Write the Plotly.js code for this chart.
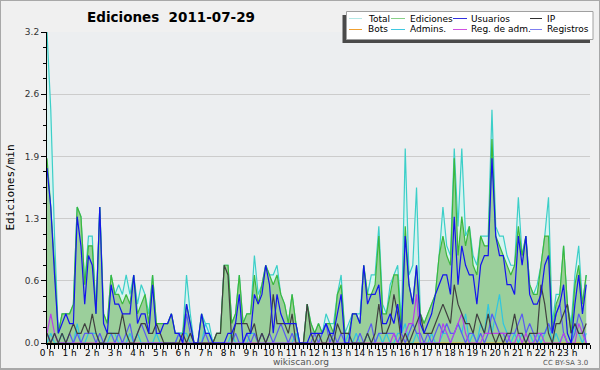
<!DOCTYPE html>
<html>
<head>
<meta charset="utf-8">
<script src="https://cdn.plot.ly/plotly-3.0.1.min.js"></script>
<style>
  html, body { margin: 0; padding: 0; background: #f0f0f0; }
  #wrap { position: relative; width: 600px; height: 370px; }
  #chart { width: 600px; height: 370px; }
  #frame { position: absolute; left: 0; top: 0; width: 600px; height: 370px; box-sizing: border-box;
           border: 1px solid #a8a8a8; border-bottom-width: 2px; pointer-events: none; }
</style>
</head>
<body>
<div id="wrap"><div id="chart"></div><div id="frame"></div></div>
<script>
// ---- data: one value per 10-minute slot (edits per minute) ----
const total = [3.2,2.4,1.1,0.1,0.3,0.3, 0.3,0.4,1.4,1.3,0.6,1.1, 1.1,0.3,1.4,0.3,0.2,0.7, 0.5,0.6,0.5,0.7,0.5,0.7,
  0.4,0.6,0.5,0.3,0.7,0.2, 0.2,0.2,0.2,0.3,0.1,0.1, 0.1,0.7,0.3,0,0,0.3, 0.2,0.2,0,0.1,0.1,0.8,
  0.8,0.2,0.3,0.7,0.2,0.3, 0.3,0.9,0.5,0.6,0.8,0.7, 0.7,0.8,0.5,0.4,0.2,0.5, 0.2,0,0,0.4,0.2,0.1,
  0.2,0.1,0.3,0.2,0.2,0.5, 0.7,0.1,0.2,0.3,0.3,0.3, 0.8,0.5,0.7,0.7,1.2,0.4, 0.3,0.6,0.7,0.8,0.2,2.0,
  0.7,0.8,1.6,0.3,0.2,0.3, 0.4,0.5,0.9,1.4,1.0,0.9, 2.0,1.2,2.0,1.1,1.2,0.9, 0.8,1.1,1.1,1.1,2.4,1.2,
  1.1,1.1,0.9,0.8,0.8,1.5, 0.9,1.1,0.6,0.5,0.6,0.8, 1.1,1.5,0.2,0.5,0.5,1.0, 0.4,0.2,0.7,1.0,0.4,0.7];
const ediciones = [1.9,1.4,0.8,0.1,0.3,0.3, 0.3,0.4,1.4,1.3,0.6,1.0, 1.0,0.3,1.4,0.3,0.2,0.7, 0.5,0.5,0.4,0.5,0.4,0.7,
  0.3,0.4,0.5,0.2,0.7,0.2, 0.2,0.2,0.2,0.3,0.1,0.1, 0.1,0.4,0.2,0,0,0.3, 0.1,0.1,0,0.1,0.1,0.8,
  0.8,0.2,0.3,0.7,0.2,0.3, 0.3,0.7,0.4,0.6,0.8,0.7, 0.6,0.7,0.5,0.4,0.2,0.5, 0.2,0,0,0.4,0.2,0.1,
  0.2,0.1,0.2,0.2,0.1,0.5, 0.6,0.1,0.1,0.3,0.3,0.2, 0.8,0.5,0.5,0.6,1.1,0.3, 0.3,0.5,0.7,0.7,0.1,1.2,
  0.6,0.4,0.8,0.3,0.2,0.3, 0.4,0.5,0.9,1.1,0.9,0.8, 1.9,0.9,1.3,1.0,1.2,0.8, 0.7,1.1,1.0,1.0,2.1,1.1,
  1.0,0.9,0.8,0.7,0.8,1.2, 0.9,1.1,0.6,0.5,0.5,0.8, 1.1,1.1,0.1,0.4,0.5,1.0, 0.4,0.1,0.6,0.8,0.4,0.7];
const usuarios = [1.8,1.4,0.7,0.1,0.2,0.3, 0.2,0.2,1.3,1.0,0.4,0.9, 0.8,0.3,1.4,0.2,0.1,0.6, 0.4,0.4,0.3,0.3,0.3,0.7,
  0.2,0.3,0.3,0.1,0.6,0.1, 0.1,0.2,0.2,0.3,0.1,0.1, 0,0.4,0.2,0,0,0.3, 0.1,0.1,0,0,0,0,
  0.1,0.1,0.2,0.5,0,0.1, 0.1,0.5,0.4,0.5,0.8,0.6, 0.1,0.5,0.3,0.2,0.2,0.2, 0.2,0,0,0,0.1,0.1,
  0.1,0.1,0.2,0.1,0.1,0.3, 0.5,0,0,0.3,0.3,0.2, 0.8,0.4,0.5,0.5,0.6,0.2, 0.2,0.3,0.2,0.4,0.1,1.1,
  0.6,0.4,0.8,0.2,0.1,0.2, 0.3,0.5,0.6,0.7,0.7,0.5, 1.3,0.6,1.0,0.8,0.7,0.7, 0.4,0.8,0.9,0.9,1.9,1.1,
  0.9,0.9,0.6,0.6,0.5,1.1, 0.8,1.1,0.5,0.4,0.4,0.5, 0.8,0.9,0.1,0.3,0.4,0.6, 0.1,0,0.4,0.7,0.3,0.6];
const ip = [0.1,0,0.1,0,0.1,0, 0.1,0.2,0.1,0.1,0.2,0.1, 0.3,0.1,0,0,0.1,0.1, 0.1,0.1,0.3,0.1,0,0,
  0.1,0.2,0.2,0.1,0.1,0.2, 0.1,0,0,0,0,0, 0.1,0,0.1,0,0,0, 0,0,0,0.1,0.1,0.8,
  0.7,0,0.2,0.2,0.2,0.2, 0.1,0.2,0,0.1,0,0.1, 0.5,0.2,0.2,0.2,0.1,0.3, 0,0,0,0.4,0.1,0,
  0.1,0,0,0.1,0,0.2, 0.1,0.1,0.1,0,0,0, 0,0.1,0,0.1,0.4,0.1, 0.1,0.2,0.5,0.3,0,0.1,
  0,0.1,0.2,0.3,0.1,0.1, 0.1,0.2,0.3,0.4,0.3,0.2, 0.6,0.4,0.3,0.2,0.2,0.1, 0.3,0.2,0.1,0.3,0.1,0,
  0.1,0,0.1,0.1,0.3,0.1, 0.1,0,0.1,0.1,0.1,0.6, 0.4,0.1,0,0.2,0.2,0.3, 0.4,0.1,0.2,0.1,0.1,0.2];
const bots = new Array(144).fill(0);
const admins = [0,0.1,0,0,0.1,0, 0,0,0.2,0,0,0.1, 0.1,0.1,0,0,0,0.1, 0.1,0,0,0,0.1,0,
  0.1,0,0,0,0,0.1, 0,0,0,0,0,0.1, 0.1,0.1,0,0,0,0, 0.2,0.1,0,0,0,0,
  0,0.1,0,0,0,0, 0.1,0.1,0,0,0,0, 0,0,0,0,0,0, 0.1,0,0,0,0,0,
  0,0.1,0.2,0.1,0,0, 0,0,0.1,0,0.1,0, 0,0.1,0,0,0.1,0, 0.1,0,0,0.1,0.1,0.2,
  0,0,0.1,0,0,0, 0.1,0,0,0.1,0.1,0, 0.1,0.2,0.1,0.3,0,0.1, 0,0.2,0.1,0.4,0.1,0.3,
  0.5,0.2,0.1,0,0.1,0, 0.1,0,0.1,0,0.1,0, 0.1,0.2,0,0.1,0,0.1, 0,0,0.2,0.1,0,0.1];
const regAdm = [0.1,0.3,0.1,0,0,0, 0,0,0,0,0,0, 0,0,0,0,0,0, 0,0,0,0,0,0,
  0,0,0,0,0,0, 0,0,0,0,0,0, 0,0,0,0,0,0, 0,0,0,0,0,0,
  0,0,0,0,0,0, 0,0,0,0,0,0, 0,0,0,0,0,0, 0,0,0,0,0,0,
  0,0,0,0,0,0, 0,0,0,0,0,0, 0,0,0,0,0,0, 0,0,0.1,0,0,0.1,
  0.2,0.2,0.5,0,0,0, 0,0,0,0.2,0.1,0, 0.1,0.2,0.3,0.1,0,0, 0,0,0.1,0.1,0.1,0.1,
  0.1,0.1,0.1,0,0,0.1, 0,0.1,0,0,0.1,0.1, 0,0,0,0,0,0.1, 0,0,0,0.2,0.1,0];
const registros = [0.1,0,0.1,0,0,0, 0.1,0,0.1,0,0.1,0.1, 0.1,0,0.1,0,0.1,0.1, 0,0.1,0,0.1,0.2,0,
  0.1,0.2,0.1,0,0,0, 0,0,0,0,0,0.1, 0,0.3,0.1,0,0,0, 0.1,0,0,0,0,0,
  0,0,0.1,0,0,0.1, 0,0.1,0,0.1,0,0.1, 0,0.1,0.2,0.1,0,0.1, 0,0,0,0,0,0.1,
  0,0.1,0.2,0,0.1,0, 0.1,0,0,0,0,0.1, 0,0.1,0.2,0,0.1,0.1, 0.1,0.1,0.1,0,0.1,0,
  0.1,0.2,0.1,0.1,0,0.1, 0,0.1,0.2,0.1,0.2,0.1, 0.1,0.2,0.1,0,0.1,0.1, 0,0.1,0,0.1,0.3,0.2,
  0.1,0.1,0,0.1,0.1,0.2, 0.3,0.1,0.2,0.1,0,0.1, 0.1,0.2,0.1,0.3,0.4,0.1, 0,0,0.1,0.3,0.2,0];
const hourTicks = [0,1,2,3,4,5,6,7,8,9,10,11,12,13,14,15,16,17,18,19,20,21,22,23];
const hourLabels = hourTicks.map(h => h + ' h');
const yTickVals = [0, 0.64, 1.28, 1.92, 2.56, 3.2];
const yTickText = ['0.0', '0.6', '1.3', '1.9', '2.6', '3.2'];
const slots = total.map((_, i) => i / 6);   // hours of the day

// ---- styling ----
const series = [
  {name: 'Total',        y: total,     color: '#3ccfc8', legend: '#b4e8e6', fill: '#d6f3f0'},
  {name: 'Ediciones',    y: ediciones, color: '#3cb83c', legend: '#88d088', fill: '#9bcf9b'},
  {name: 'Bots',         y: bots,      color: '#f0a030', legend: '#f0a030'},
  {name: 'Admins.',      y: admins,    color: '#30c6e0', legend: '#40c8e0'},
  {name: 'Registros',    y: registros, color: '#5a5af2', legend: '#7f7ff0'},
  {name: 'Reg. de adm.', y: regAdm,    color: '#b840e8', legend: '#d050e0'},
  {name: 'IP',           y: ip,        color: '#404040', legend: '#303030'},
  {name: 'Usuarios',     y: usuarios,  color: '#1414ee', legend: '#3030e0'}
];

const traces = series.map(s => ({
  type: 'scatter', mode: 'lines', x: slots, y: s.y, name: s.name,
  line: {color: s.color, width: 1.2},
  fill: s.fill ? 'tozeroy' : 'none',
  fillcolor: s.fill, showlegend: false, hoverinfo: 'skip'
}));

// pixel helpers for layout decorations (plot area 47..590 x 32..343)
const L = 47, R = 590, T = 32, B = 343;
const px = v => (v - L) / (R - L);
const py = v => (B - v) / (B - T);

const shapes = [
  {type: 'rect', xref: 'paper', yref: 'paper', x0: px(342.5), x1: px(590), y0: py(43), y1: py(15),
   fillcolor: '#4a4a4a', line: {width: 0}, layer: 'above'},
  {type: 'rect', xref: 'paper', yref: 'paper', x0: px(346.5), x1: px(593), y0: py(39.5), y1: py(11.5),
   fillcolor: '#ffffff', line: {color: '#a0a0a0', width: 1}, layer: 'above'}
];
const annotations = [
  {text: 'wikiscan.org', xref: 'paper', yref: 'paper', x: px(301), y: py(362), showarrow: false,
   font: {family: 'DejaVu Sans', size: 9, color: '#555'}, xanchor: 'center', yanchor: 'middle'},
  {text: 'CC BY-SA 3.0', xref: 'paper', yref: 'paper', x: px(590), y: py(363), showarrow: false,
   font: {family: 'DejaVu Sans', size: 7, color: '#555'}, xanchor: 'right', yanchor: 'middle'}
];
// legend grid (4 columns x 2 rows)
const legendOrder = ['Total', 'Ediciones', 'Usuarios', 'IP', 'Bots', 'Admins.', 'Reg. de adm.', 'Registros'];
const colLine = [[349, 362], [391, 405], [453, 467], [530, 542]];
const colText = [366, 408, 469, 545];
const rowY = [18.5, 29.5];
legendOrder.forEach((n, k) => {
  const s = series.find(t => t.name === n);
  const c = k % 4, r = Math.floor(k / 4);
  shapes.push({type: 'line', xref: 'paper', yref: 'paper', x0: px(colLine[c][0]), x1: px(colLine[c][1]),
    y0: py(rowY[r]), y1: py(rowY[r]), line: {color: s.legend, width: 1}, layer: 'above'});
  annotations.push({text: n, xref: 'paper', yref: 'paper', x: px(colText[c]), y: py(rowY[r]),
    xanchor: 'left', yanchor: 'middle', showarrow: false,
    font: {family: 'DejaVu Sans', size: 9, color: '#000'}});
});

const layout = {
  width: 600, height: 370,
  margin: {l: L, r: 600 - R, t: T, b: 370 - B},
  paper_bgcolor: '#f0f0f0', plot_bgcolor: '#eceef0',
  showlegend: false,
  title: {text: '<b>Ediciones\u00a0 2011-07-29</b>', xref: 'container', yref: 'container',
          x: 171 / 600, y: 1 - 17 / 370, xanchor: 'center', yanchor: 'middle',
          font: {family: 'DejaVu Sans', size: 13.5, color: '#000'}},
  xaxis: {range: [0, 24], tickmode: 'array', tickvals: hourTicks, ticktext: hourLabels,
          ticks: 'outside', ticklen: 4, tickcolor: '#000', tickwidth: 1,
          showline: true, linecolor: '#000', linewidth: 2, showgrid: false, zeroline: false,
          tickfont: {family: 'DejaVu Sans', size: 9, color: '#000'}, ticklabelstandoff: -4,
          minor: {dtick: 1 / 6, tick0: 0, ticks: 'outside', ticklen: 4, tickcolor: '#000', showgrid: false},
          fixedrange: true},
  yaxis: {range: [0, 3.2], tickmode: 'array', tickvals: yTickVals, ticktext: yTickText,
          ticks: 'outside', ticklen: 5, tickcolor: '#000',
          showline: true, linecolor: '#000', linewidth: 1, showgrid: true, gridcolor: '#cccccc',
          zeroline: false, tickfont: {family: 'DejaVu Sans', size: 9, color: '#333'},
          minor: {dtick: 0.16, tick0: 0, ticks: 'outside', ticklen: 3, tickcolor: '#000', showgrid: false},
          title: {text: 'Ediciones/min', font: {family: 'DejaVu Sans Mono', size: 11, color: '#000'}, standoff: 8},
          fixedrange: true},
  shapes: shapes, annotations: annotations
};

Plotly.newPlot('chart', traces, layout, {displayModeBar: false, staticPlot: true});
</script>
</body>
</html>
